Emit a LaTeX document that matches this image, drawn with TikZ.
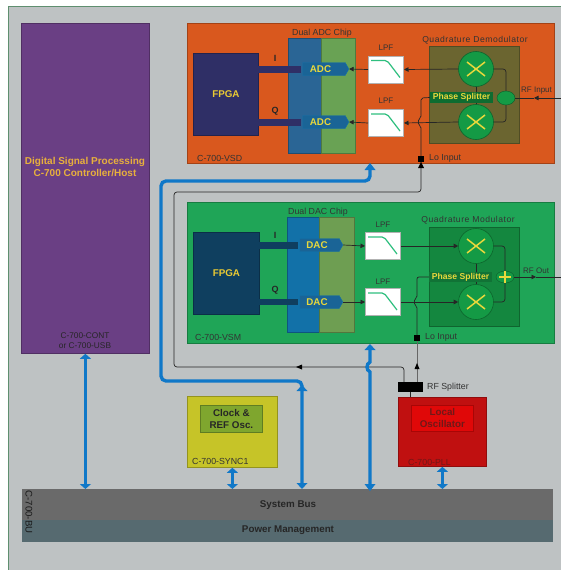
\documentclass[tikz,border=0pt]{standalone}
\usepackage{fontspec}
\setmainfont{Liberation Sans}
\usetikzlibrary{arrows.meta,shapes.geometric,shapes.symbols,calc}
\definecolor{bg}{HTML}{BEC2C3}
\definecolor{frameg}{HTML}{5F8F6F}
\definecolor{orangeb}{HTML}{D9581E}
\definecolor{greenb}{HTML}{1FA557}
\definecolor{purpleb}{HTML}{6A3F84}
\definecolor{fpgaA}{HTML}{2F2F66}
\definecolor{fpgaB}{HTML}{0F3F5F}
\definecolor{blueA}{HTML}{2A6595}
\definecolor{blueB}{HTML}{1271A8}
\definecolor{chipf}{HTML}{1A6496}
\definecolor{greenA}{HTML}{69A254}
\definecolor{greenB}{HTML}{6E9E52}
\definecolor{olive}{HTML}{6B6530}
\definecolor{modg}{HTML}{14873F}
\definecolor{mixg}{HTML}{149A45}
\definecolor{yel}{HTML}{E8D83C}
\definecolor{hostt}{HTML}{E8B03C}
\definecolor{busblue}{HTML}{1078C8}
\definecolor{busg}{HTML}{6A6A6A}
\definecolor{powg}{HTML}{566A70}
\definecolor{clky}{HTML}{C6C428}
\definecolor{clkg}{HTML}{7FA62E}
\definecolor{redA}{HTML}{C01010}
\definecolor{redB}{HTML}{E00808}
\definecolor{redt}{HTML}{701818}
\definecolor{lpfg}{HTML}{2FBF7F}
\tikzset{
 x=1pt,y=-1pt,
 block/.style={rectangle,draw=#1!75!black,fill=#1,line width=.8pt,inner sep=0,anchor=north west},
 txt/.style={font=\fontsize{8}{9}\selectfont,text=black!80,inner sep=0},
 txtb/.style={font=\fontsize{8.8}{10}\selectfont,text=black!80,inner sep=0},
 txtw/.style={font=\fontsize{8.6}{10}\selectfont\addfontfeature{LetterSpace=6},text=black!80,inner sep=0},
 iq/.style={font=\bfseries\fontsize{9}{10}\selectfont,text=black!85},
 big/.style={font=\bfseries\fontsize{9.8}{12}\selectfont,text=black!85},
 fpgat/.style={font=\bfseries\fontsize{9.8}{11}\selectfont,text=yel!85!orange},
 chip/.style={signal,signal to=east,signal pointer angle=120,draw=#1,fill=chipf,text=yel,font=\bfseries\fontsize{9.8}{11}\selectfont,inner sep=0,minimum height=13pt},
 lpfbox/.style={rectangle,draw=black!30,line width=1pt,fill=white,inner sep=0,minimum width=35pt,minimum height=27pt},
 mixer/.style={circle,draw=black!35!mixg,fill=mixg,line width=.6pt,minimum size=35pt,inner sep=0},
 phase/.style={rectangle,fill=#1,text=yel,font=\bfseries\fontsize{8.6}{9}\selectfont,inner sep=0,minimum height=10.5pt},
 sig/.style={draw=black!85,line width=.7pt},
 sigtip/.style={sig,-{Triangle[length=4.5pt,width=4.5pt]}},
 dbus/.style={draw=busblue,line width=3.4pt,{Triangle[length=5pt,width=11pt]}-{Triangle[length=5pt,width=11pt]}},
 bbus/.style={draw=busblue,line width=3.4pt,rounded corners=5pt},
 sq/.style={rectangle,fill=black,inner sep=0,minimum size=5.5pt},
}
\newcommand{\lpfcurve}[1]{\draw[draw=lpfg,line width=1.2pt,rounded corners=2pt] ($(#1.north west)+(3,5)$) -- ($(#1.north west)+(19,5)$) -- ($(#1.north west)+(32,22)$);}
\newcommand{\crossmark}[1]{\draw[yel,line width=1.5pt] ($(#1)+(-9,-7)$) -- ($(#1)+(9,7)$) ($(#1)+(-9,7)$) -- ($(#1)+(9,-7)$);}
\begin{document}
\begin{tikzpicture}
\useasboundingbox (0,0) rectangle (561,570);
\fill[bg] (0,0) rectangle (561,570);
\fill[white] (0,0) rectangle (561,6);
\fill[white] (0,0) rectangle (8.5,570);
\draw[frameg,line width=1pt] (8.5,570) -- (8.5,6) -- (561,6);

% host
\node[block=purpleb,minimum width=128pt,minimum height=330pt] (host) at (21,23) {};
\node[font=\bfseries\fontsize{10}{12}\selectfont,text=hostt,align=center] (hostt) at (85,167) {Digital Signal Processing\\C-700 Controller/Host};
\node[font=\fontsize{8.3}{10}\selectfont,text=black!85,inner sep=0,align=center] (hostl) at (85,341) {C-700-CONT\\or C-700-USB};

% ADC board
\node[block=orangeb,minimum width=367pt,minimum height=140pt] (vsd) at (187,23) {};
\node[txtb,anchor=west] (vsdl) at (197,158) {C-700-VSD};
\node[block=fpgaA,minimum width=65pt,minimum height=82pt] (fpgaa) at (193,53) {};
\node[fpgat] at (fpgaa.center) {FPGA};
\node[block=blueA,minimum width=33pt,minimum height=115pt] (ba) at (288,38) {};
\node[block=greenA,minimum width=34pt,minimum height=115pt] (ga) at (321,38) {};
\node[txtb] (dualA) at (322,33) {Dual ADC Chip};
\node[chip=blueB,minimum width=46pt] (adci) at (324,69) {ADC\hspace*{7pt}};
\node[chip=blueB,minimum width=46pt] (adcq) at (324,122) {ADC\hspace*{7pt}};
\fill[fpgaA] (258,65.5) rectangle (301,72.5);
\fill[fpgaA] (258,118.5) rectangle (301,125.5);
\node[iq] at (275,58) {I};
\node[iq] at (275,111) {Q};
\node[lpfbox] (lpfa) at (386,69.5) {};\lpfcurve{lpfa}
\node[lpfbox] (lpfb) at (386,123) {};\lpfcurve{lpfb}
\node[txt] at (386,48) {LPF};
\node[txt] at (386,101) {LPF};
\node[block=olive,minimum width=90pt,minimum height=97pt] (demod) at (429,46) {};
\node[txtw] at (475,40) {Quadrature Demodulator};
\node[mixer] (mxa) at (476,69) {};\crossmark{mxa}
\node[mixer] (mxb) at (476,122) {};\crossmark{mxb}
\draw[sig] (mxa) -- (mxb);
\node[phase=mixg!70!black,minimum width=63pt] (psa) at (461.5,97.5) {Phase Splitter};
\node[ellipse,draw=black!40!mixg,fill=mixg,minimum width=18pt,minimum height=14pt,inner sep=0] (spa) at (506,98) {};
\draw[sig,rounded corners=3pt] (mxa.east) -- (506,69) -- (spa.north);
\draw[sig,rounded corners=3pt] (mxb.east) -- (506,122) -- (spa.south);
\node[txt,anchor=west] at (521,91) {RF Input};
\coordinate (rfin) at (561,98);
\draw[sigtip] (rfin) -- (534,98);
\draw[sig] (534,98) -- (spa.east);
\draw[sigtip] (mxa.west) -- (lpfa.east);
\draw[sigtip] (lpfa.west) -- (adci.east);
\draw[sigtip] (mxb.west) -- (lpfb.east);
\draw[sigtip] (lpfb.west) -- (adcq.east);
\node[sq] (loa) at (421,159) {};
\node[txtb,anchor=west] at (429,158) {Lo Input};
\draw[sig,rounded corners=2pt] (loa.north) -- (421,126) .. controls (418,124) and (418,120) .. (421,118) -- (421,98) -- (psa.west);

% DAC board
\node[block=greenb,minimum width=367pt,minimum height=141pt] (vsm) at (187,202) {};
\node[txtb,anchor=west] (vsml) at (195,337) {C-700-VSM};
\node[block=fpgaB,minimum width=66pt,minimum height=82pt] (fpgab) at (193,232) {};
\node[fpgat] at (fpgab.center) {FPGA};
\node[block=blueB,minimum width=32pt,minimum height=115pt] (bb) at (287,217) {};
\node[block=greenB,minimum width=35pt,minimum height=115pt] (gb) at (319,217) {};
\node[txtb] (dualB) at (318,212) {Dual DAC Chip};
\node[chip=blueB,minimum width=43pt] (daci) at (319.5,245) {DAC\hspace*{5pt}};
\node[chip=blueB,minimum width=43pt] (dacq) at (319.5,302) {DAC\hspace*{5pt}};
\fill[fpgaB] (259,242) rectangle (298,249);
\fill[fpgaB] (259,299) rectangle (298,305);
\node[iq] at (275,235) {I};
\node[iq] at (275,290) {Q};
\node[lpfbox] (lpfc) at (383,246) {};\lpfcurve{lpfc}
\node[lpfbox] (lpfd) at (383,302) {};\lpfcurve{lpfd}
\node[txt] at (383,225) {LPF};
\node[txt] at (383,282) {LPF};
\node[block=modg,minimum width=90pt,minimum height=99pt] (mod) at (429,227) {};
\node[txtw] at (468,220) {Quadrature Modulator};
\node[mixer] (mxc) at (476,246) {};\crossmark{mxc}
\node[mixer] (mxd) at (476,302) {};\crossmark{mxd}
\draw[sig] (mxc) -- (mxd);
\node[phase=modg!85!black,minimum width=63pt] (psb) at (460.5,277) {Phase Splitter};
\node[ellipse,draw=black!40!mixg,fill=mixg,minimum width=18pt,minimum height=12pt,inner sep=0] (spb) at (505,277) {};
\draw[yel,line width=1.4pt] (499,277) -- (511,277) (505,271) -- (505,283);
\draw[sig,rounded corners=3pt] (mxc.east) -- (505,246) -- (spb.north);
\draw[sig,rounded corners=3pt] (mxd.east) -- (505,302) -- (spb.south);
\node[txt,anchor=west] at (523,271) {RF Out};
\coordinate (rfout) at (561,277);
\draw[sigtip] (spb.east) -- (536,277);
\draw[sig] (536,277) -- (rfout);
\draw[sigtip] (daci.east) -- (lpfc.west);
\draw[sigtip] (dacq.east) -- (lpfd.west);
\draw[sigtip] (lpfc.east) -- (mxc.west);
\draw[sigtip] (lpfd.east) -- (mxd.west);
\node[sq] (lob) at (417,338) {};
\node[txtb,anchor=west] at (425,337) {Lo Input};
\draw[sig,rounded corners=2pt] (lob.north) -- (417,306) .. controls (414,304) and (414,300) .. (417,298) -- (417,277) -- (psb.west);

% lower blocks
\node[block=clky,minimum width=90pt,minimum height=71pt] (sync) at (187,396) {};
\node[block=clkg,minimum width=62pt,minimum height=27pt] (clk) at (200,405) {};
\node[big,font=\bfseries\fontsize{9.8}{12}\selectfont,align=center] at (clk.center) {Clock \&\\REF Osc.};
\node[txtb,anchor=west] at (192,461) {C-700-SYNC1};
\node[block=redA,minimum width=88pt,minimum height=69pt] (pll) at (398,397) {};
\node[block=redB,minimum width=62pt,minimum height=26pt] (osc) at (411,405) {};
\node[font=\bfseries\fontsize{9.8}{12}\selectfont,text=redt,align=center] at (osc.center) {Local\\Oscillator};
\node[font=\fontsize{8.8}{10}\selectfont,text=redt,inner sep=0,anchor=west] at (408,462) {C-700-PLL};
\node[rectangle,fill=black,minimum width=25pt,minimum height=10pt,inner sep=0] (split) at (410.5,387) {};
\node[txtb,anchor=west] at (427,387) {RF Splitter};
\draw[sig] (split.south) -- (pll.north -| split);

% bus
\node[rectangle,fill=busg,minimum width=531.5pt,minimum height=31pt,inner sep=0,anchor=north west] (sys) at (21.5,489) {};
\node[rectangle,fill=powg,minimum width=531.5pt,minimum height=22pt,inner sep=0,anchor=north west] (pow) at (21.5,520) {};
\node[big] at (288,505) {System Bus};
\node[big] at (288,530) {Power Management};
\node[font=\fontsize{9.6}{11}\selectfont,text=black!90,rotate=-90] at (29,512) {C-700-BU};

% thin lines
\draw[sig,draw=black!60,line width=.9pt] (lob.south) -- (lob.south |- split.north);
\fill[black] (414.5,369) -- (419.5,369) -- (417,363) -- cycle;
\draw[sig,rounded corners=3pt] (404,382) -- (404,367) -- (174,367) -- (174,192) -- (421,192) -- (loa.south);
\fill[black] (296,367) -- (302,364.5) -- (302,369.5) -- cycle;
\fill[black] (418,168) -- (424,168) -- (421,162) -- cycle;

% blue buses
\draw[dbus] (host.south) -- (host.south |- sys.north);
\draw[dbus] (sync.south) -- (sync.south |- sys.north);
\draw[dbus] (pll.south) -- (pll.south |- sys.north);
\draw[bbus] (302,486) -- (302,381) -- (161,381) -- (161,181) -- (370,181) -- (370,170);
\fill[busblue] (364.5,170) -- (375.5,170) -- (370,163) -- cycle;
\fill[busblue] (296.5,391) -- (307.5,391) -- (302,385) -- cycle;
\fill[busblue] (296.5,483) -- (307.5,483) -- (302,489) -- cycle;
\draw[draw=busblue,line width=3.4pt] (370,350) -- (370,362) .. controls (366,364) and (366,370) .. (370,372) -- (370,486);
\fill[busblue] (364.5,350) -- (375.5,350) -- (370,344) -- cycle;
\fill[busblue] (364.5,484) -- (375.5,484) -- (370,491) -- cycle;
\end{tikzpicture}
\end{document}
